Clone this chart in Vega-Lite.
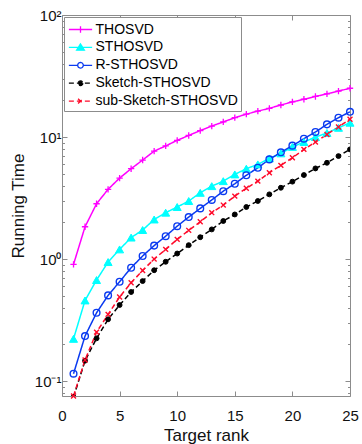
{
  "$schema": "https://vega.github.io/schema/vega-lite/v6.json",
  "width": 288,
  "height": 381,
  "autosize": {"type": "none"},
  "padding": {"left": 62, "top": 15, "right": 12, "bottom": 48},
  "config": {
    "font": "Liberation Sans",
    "view": {"stroke": "#8c8c8c", "strokeWidth": 1},
    "axis": {"grid": false, "domain": false, "tickColor": "#8c8c8c", "labelColor": "#111", "titleColor": "#111", "labelFont": "Liberation Sans", "titleFont": "Liberation Sans", "titleFontWeight": "normal"}
  },
  "data": {"values": [
    {"k":1,"v":0.905,"s":"THOSVD"},{"k":2,"v":1.84,"s":"THOSVD"},{"k":3,"v":2.84,"s":"THOSVD"},{"k":4,"v":3.73,"s":"THOSVD"},{"k":5,"v":4.61,"s":"THOSVD"},
    {"k":6,"v":5.5,"s":"THOSVD"},{"k":7,"v":6.48,"s":"THOSVD"},{"k":8,"v":7.67,"s":"THOSVD"},{"k":9,"v":8.45,"s":"THOSVD"},{"k":10,"v":9.4,"s":"THOSVD"},
    {"k":11,"v":10.3,"s":"THOSVD"},{"k":12,"v":11.3,"s":"THOSVD"},{"k":13,"v":12.3,"s":"THOSVD"},{"k":14,"v":13.3,"s":"THOSVD"},{"k":15,"v":14.4,"s":"THOSVD"},
    {"k":16,"v":15.4,"s":"THOSVD"},{"k":17,"v":16.3,"s":"THOSVD"},{"k":18,"v":17.2,"s":"THOSVD"},{"k":19,"v":18.3,"s":"THOSVD"},{"k":20,"v":19.4,"s":"THOSVD"},
    {"k":21,"v":20.4,"s":"THOSVD"},{"k":22,"v":21.5,"s":"THOSVD"},{"k":23,"v":22.6,"s":"THOSVD"},{"k":24,"v":23.8,"s":"THOSVD"},{"k":25,"v":25.1,"s":"THOSVD"},
    {"k":1,"v":0.222,"s":"STHOSVD"},{"k":2,"v":0.458,"s":"STHOSVD"},{"k":3,"v":0.673,"s":"STHOSVD"},{"k":4,"v":0.945,"s":"STHOSVD"},{"k":5,"v":1.2,"s":"STHOSVD"},
    {"k":6,"v":1.5,"s":"STHOSVD"},{"k":7,"v":1.73,"s":"STHOSVD"},{"k":8,"v":2.11,"s":"STHOSVD"},{"k":9,"v":2.4,"s":"STHOSVD"},{"k":10,"v":2.67,"s":"STHOSVD"},
    {"k":11,"v":2.99,"s":"STHOSVD"},{"k":12,"v":3.49,"s":"STHOSVD"},{"k":13,"v":3.96,"s":"STHOSVD"},{"k":14,"v":4.35,"s":"STHOSVD"},{"k":15,"v":4.94,"s":"STHOSVD"},
    {"k":16,"v":5.5,"s":"STHOSVD"},{"k":17,"v":5.97,"s":"STHOSVD"},{"k":18,"v":6.68,"s":"STHOSVD"},{"k":19,"v":7.35,"s":"STHOSVD"},{"k":20,"v":8.3,"s":"STHOSVD"},
    {"k":21,"v":9.1,"s":"STHOSVD"},{"k":22,"v":10.0,"s":"STHOSVD"},{"k":23,"v":10.8,"s":"STHOSVD"},{"k":24,"v":11.9,"s":"STHOSVD"},{"k":25,"v":13.1,"s":"STHOSVD"},
    {"k":1,"v":0.115,"s":"R-STHOSVD"},{"k":2,"v":0.234,"s":"R-STHOSVD"},{"k":3,"v":0.363,"s":"R-STHOSVD"},{"k":4,"v":0.504,"s":"R-STHOSVD"},{"k":5,"v":0.652,"s":"R-STHOSVD"},
    {"k":6,"v":0.849,"s":"R-STHOSVD"},{"k":7,"v":1.06,"s":"R-STHOSVD"},{"k":8,"v":1.29,"s":"R-STHOSVD"},{"k":9,"v":1.54,"s":"R-STHOSVD"},{"k":10,"v":1.86,"s":"R-STHOSVD"},
    {"k":11,"v":2.21,"s":"R-STHOSVD"},{"k":12,"v":2.6,"s":"R-STHOSVD"},{"k":13,"v":3.05,"s":"R-STHOSVD"},{"k":14,"v":3.6,"s":"R-STHOSVD"},{"k":15,"v":4.14,"s":"R-STHOSVD"},
    {"k":16,"v":4.86,"s":"R-STHOSVD"},{"k":17,"v":5.6,"s":"R-STHOSVD"},{"k":18,"v":6.56,"s":"R-STHOSVD"},{"k":19,"v":7.5,"s":"R-STHOSVD"},{"k":20,"v":8.5,"s":"R-STHOSVD"},
    {"k":21,"v":9.69,"s":"R-STHOSVD"},{"k":22,"v":11.0,"s":"R-STHOSVD"},{"k":23,"v":12.7,"s":"R-STHOSVD"},{"k":24,"v":14.4,"s":"R-STHOSVD"},{"k":25,"v":16.1,"s":"R-STHOSVD"},
    {"k":1,"v":0.074,"s":"Sketch-STHOSVD"},{"k":2,"v":0.147,"s":"Sketch-STHOSVD"},{"k":3,"v":0.224,"s":"Sketch-STHOSVD"},{"k":4,"v":0.321,"s":"Sketch-STHOSVD"},{"k":5,"v":0.42,"s":"Sketch-STHOSVD"},
    {"k":6,"v":0.537,"s":"Sketch-STHOSVD"},{"k":7,"v":0.66,"s":"Sketch-STHOSVD"},{"k":8,"v":0.81,"s":"Sketch-STHOSVD"},{"k":9,"v":0.95,"s":"Sketch-STHOSVD"},{"k":10,"v":1.11,"s":"Sketch-STHOSVD"},
    {"k":11,"v":1.3,"s":"Sketch-STHOSVD"},{"k":12,"v":1.51,"s":"Sketch-STHOSVD"},{"k":13,"v":1.75,"s":"Sketch-STHOSVD"},{"k":14,"v":2.05,"s":"Sketch-STHOSVD"},{"k":15,"v":2.32,"s":"Sketch-STHOSVD"},
    {"k":16,"v":2.67,"s":"Sketch-STHOSVD"},{"k":17,"v":2.99,"s":"Sketch-STHOSVD"},{"k":18,"v":3.39,"s":"Sketch-STHOSVD"},{"k":19,"v":3.84,"s":"Sketch-STHOSVD"},{"k":20,"v":4.31,"s":"Sketch-STHOSVD"},
    {"k":21,"v":4.88,"s":"Sketch-STHOSVD"},{"k":22,"v":5.53,"s":"Sketch-STHOSVD"},{"k":23,"v":6.15,"s":"Sketch-STHOSVD"},{"k":24,"v":6.98,"s":"Sketch-STHOSVD"},{"k":25,"v":7.92,"s":"Sketch-STHOSVD"},
    {"k":1,"v":0.0755,"s":"sub-Sketch-STHOSVD"},{"k":2,"v":0.149,"s":"sub-Sketch-STHOSVD"},{"k":3,"v":0.252,"s":"sub-Sketch-STHOSVD"},{"k":4,"v":0.352,"s":"sub-Sketch-STHOSVD"},{"k":5,"v":0.489,"s":"sub-Sketch-STHOSVD"},
    {"k":6,"v":0.64,"s":"sub-Sketch-STHOSVD"},{"k":7,"v":0.807,"s":"sub-Sketch-STHOSVD"},{"k":8,"v":1.0,"s":"sub-Sketch-STHOSVD"},{"k":9,"v":1.2,"s":"sub-Sketch-STHOSVD"},{"k":10,"v":1.45,"s":"sub-Sketch-STHOSVD"},
    {"k":11,"v":1.72,"s":"sub-Sketch-STHOSVD"},{"k":12,"v":2.02,"s":"sub-Sketch-STHOSVD"},{"k":13,"v":2.4,"s":"sub-Sketch-STHOSVD"},{"k":14,"v":2.77,"s":"sub-Sketch-STHOSVD"},{"k":15,"v":3.28,"s":"sub-Sketch-STHOSVD"},
    {"k":16,"v":3.8,"s":"sub-Sketch-STHOSVD"},{"k":17,"v":4.35,"s":"sub-Sketch-STHOSVD"},{"k":18,"v":5.1,"s":"sub-Sketch-STHOSVD"},{"k":19,"v":5.86,"s":"sub-Sketch-STHOSVD"},{"k":20,"v":6.76,"s":"sub-Sketch-STHOSVD"},
    {"k":21,"v":7.92,"s":"sub-Sketch-STHOSVD"},{"k":22,"v":9.1,"s":"sub-Sketch-STHOSVD"},{"k":23,"v":10.5,"s":"sub-Sketch-STHOSVD"},{"k":24,"v":12.1,"s":"sub-Sketch-STHOSVD"},{"k":25,"v":14.0,"s":"sub-Sketch-STHOSVD"}
  ]},
  "layer": [
    {
      "mark": {"type": "line", "strokeWidth": 1.5, "clip": true},
      "encoding": {
        "x": {"field": "k", "type": "quantitative", "scale": {"domain": [0, 25], "nice": false, "zero": false},
          "axis": {"orient": "bottom", "values": [0, 5, 10, 15, 20, 25], "tickSize": -5, "labelFontSize": 15, "labelPadding": 17, "labelFlush": false, "title": "Target rank", "titleFontSize": 17, "titlePadding": 4}},
        "y": {"field": "v", "type": "quantitative", "scale": {"type": "log", "domain": [0.0755, 100], "nice": false},
          "axis": {"orient": "left", "values": [0.08,0.09,0.1,0.2,0.3,0.4,0.5,0.6,0.7,0.8,0.9,1,2,3,4,5,6,7,8,9,10,20,30,40,50,60,70,80,90,100],
            "labelExpr": "datum.value==100?'10²':datum.value==10?'10¹':datum.value==1?'10⁰':datum.value==0.1?'10⁻¹':''",
            "tickSize": {"condition": {"test": "abs(log(datum.value)/LN10 - round(log(datum.value)/LN10)) < 0.001", "value": -5}, "value": -2.5},
            "labelFontSize": 15, "labelPadding": 6, "labelFlush": false, "title": "Running Time", "titleFontSize": 17, "titlePadding": 7}},
        "color": {"field": "s", "type": "nominal",
          "scale": {"domain": ["THOSVD", "STHOSVD", "R-STHOSVD", "Sketch-STHOSVD", "sub-Sketch-STHOSVD"], "range": ["#FF00FF", "#00FFFF", "#0a3af0", "#000000", "#FF0A2A"]},
          "legend": {"title": null, "orient": "top-left", "offset": 1.5, "padding": 2.5, "symbolOffset": 4, "symbolSize": 346, "symbolStrokeWidth": 1.3,
            "labelFontSize": 14, "labelFont": "Liberation Sans", "labelColor": "#000", "labelOffset": 5, "rowPadding": 0.9, "strokeColor": "#8c8c8c", "fillColor": "#ffffff", "labelLimit": 300,
            "encode": {"symbols": {"update": {
              "shape": {"signal": "datum.value==='THOSVD'?'M-1.25,0L1.25,0M0,-0.35L0,0.35':datum.value==='STHOSVD'?'M-1.25,0L1.25,0M0,-0.38L0.42,0.3L-0.42,0.3Z':datum.value==='R-STHOSVD'?'M-1.25,0L-0.3,0M0.3,0L1.25,0M0.3,0A0.3,0.3,0,1,1,-0.3,0A0.3,0.3,0,1,1,0.3,0':datum.value==='Sketch-STHOSVD'?'M-1.25,0L1.25,0M0.25,0A0.25,0.25,0,1,1,-0.25,0A0.25,0.25,0,1,1,0.25,0':'M-1.25,0L1.25,0M-0.26,-0.26L0.26,0.26M-0.26,0.26L0.26,-0.26'"},
              "fill": {"signal": "datum.value==='STHOSVD'?'#00FFFF':datum.value==='Sketch-STHOSVD'?'#000000':'transparent'"},
              "strokeDash": {"signal": "(datum.value==='Sketch-STHOSVD'||datum.value==='sub-Sketch-STHOSVD')?[4,3]:[]"},
              "opacity": {"value": 1}
            }}}}},
        "strokeDash": {"field": "s", "type": "nominal",
          "scale": {"domain": ["THOSVD", "STHOSVD", "R-STHOSVD", "Sketch-STHOSVD", "sub-Sketch-STHOSVD"], "range": [[1, 0], [1, 0], [1, 0], [5, 3], [5, 3]]},
          "legend": null}
      }
    },
    {
      "transform": [{"filter": "datum.s === 'THOSVD'"}],
      "mark": {"type": "point", "shape": "M-1,0L1,0M0,-1L0,1", "size": 40, "stroke": "#FF00FF", "strokeWidth": 1.3, "fill": null, "filled": false, "opacity": 1},
      "encoding": {"x": {"field": "k", "type": "quantitative", "axis": null}, "y": {"field": "v", "type": "quantitative", "axis": null}}
    },
    {
      "transform": [{"filter": "datum.s === 'STHOSVD'"}],
      "mark": {"type": "point", "shape": "triangle-up", "size": 64, "stroke": "#00FFFF", "fill": "#00FFFF", "filled": true, "strokeWidth": 1, "opacity": 1},
      "encoding": {"x": {"field": "k", "type": "quantitative", "axis": null}, "y": {"field": "v", "type": "quantitative", "axis": null}}
    },
    {
      "transform": [{"filter": "datum.s === 'R-STHOSVD'"}],
      "mark": {"type": "point", "shape": "circle", "size": 45, "stroke": "#0a3af0", "filled": false, "strokeWidth": 1.4, "opacity": 1},
      "encoding": {"x": {"field": "k", "type": "quantitative", "axis": null}, "y": {"field": "v", "type": "quantitative", "axis": null}}
    },
    {
      "transform": [{"filter": "datum.s === 'Sketch-STHOSVD'"}],
      "mark": {"type": "point", "shape": "circle", "size": 24, "stroke": "#000000", "fill": "#000000", "filled": true, "strokeWidth": 1, "opacity": 1, "clip": true},
      "encoding": {"x": {"field": "k", "type": "quantitative", "axis": null}, "y": {"field": "v", "type": "quantitative", "axis": null}}
    },
    {
      "transform": [{"filter": "datum.s === 'sub-Sketch-STHOSVD'"}],
      "mark": {"type": "point", "shape": "M-1,-1L1,1M-1,1L1,-1", "size": 24, "stroke": "#FF0A2A", "filled": false, "strokeWidth": 1.4, "opacity": 1},
      "encoding": {"x": {"field": "k", "type": "quantitative", "axis": null}, "y": {"field": "v", "type": "quantitative", "axis": null}}
    },
    {
      "mark": {"type": "point", "opacity": 0},
      "encoding": {
        "x": {"field": "k", "type": "quantitative",
          "axis": {"orient": "top", "values": [0, 5, 10, 15, 20, 25], "tickSize": -5, "labels": false, "title": null}},
        "y": {"field": "v", "type": "quantitative",
          "axis": {"orient": "right", "values": [0.08,0.09,0.1,0.2,0.3,0.4,0.5,0.6,0.7,0.8,0.9,1,2,3,4,5,6,7,8,9,10,20,30,40,50,60,70,80,90,100],
            "tickSize": {"condition": {"test": "abs(log(datum.value)/LN10 - round(log(datum.value)/LN10)) < 0.001", "value": -5}, "value": -2.5},
            "labels": false, "title": null}}
      }
    }
  ],
  "resolve": {"axis": {"x": "independent", "y": "independent"}}
}
